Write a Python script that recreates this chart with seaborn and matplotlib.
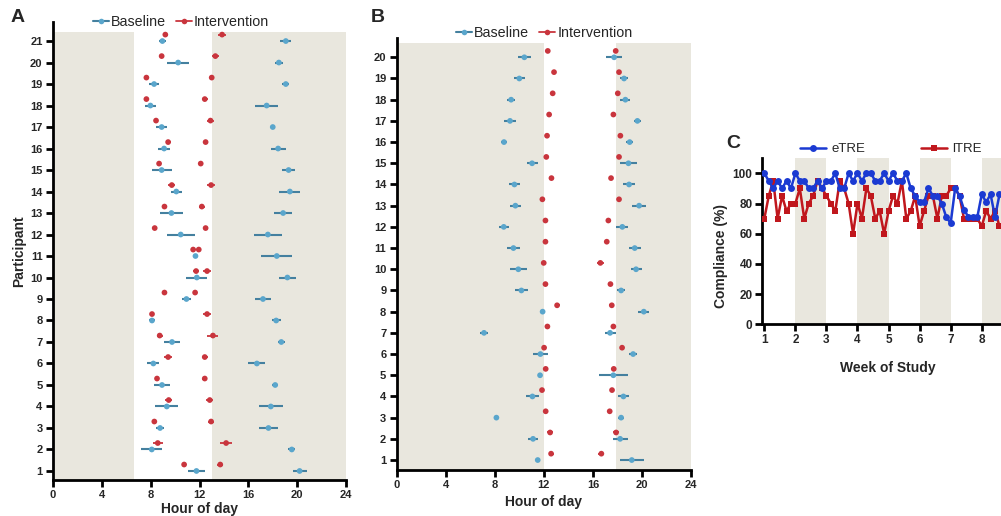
import numpy as np
import pandas as pd
import matplotlib
matplotlib.use("Agg")
import matplotlib.pyplot as plt
import seaborn as sns
from matplotlib.lines import Line2D

# ---------------- data ----------------
# Panel A: 21 participants, first / last meal time (hour of day), mean and spread
a_participants = list(range(1, 22))
a_base_first = [11.75, 8.09, 8.77, 9.32, 8.93, 8.22, 9.75, 8.11, 10.93, 11.78, 11.67,
                10.46, 9.70, 10.10, 8.90, 9.10, 8.90, 7.98, 8.28, 10.25, 8.96]
a_base_first_err = [0.70, 0.85, 0.35, 0.95, 0.64, 0.50, 0.67, 0.25, 0.40, 0.87, 0.0,
                    1.16, 0.95, 0.45, 0.83, 0.50, 0.45, 0.45, 0.40, 0.90, 0.30]
a_base_last = [20.20, 19.56, 17.65, 17.84, 18.20, 16.70, 18.70, 18.28, 17.20, 19.20, 18.33,
               17.60, 18.85, 19.40, 19.30, 18.44, 18.00, 17.50, 19.07, 18.50, 19.07]
a_base_last_err = [0.58, 0.30, 0.78, 0.98, 0.25, 0.70, 0.30, 0.38, 0.68, 0.68, 1.27,
                   1.17, 0.75, 0.87, 0.55, 0.62, 0.10, 0.93, 0.30, 0.30, 0.45]
a_int_first = [10.74, 8.58, 8.30, 9.48, 8.52, 9.43, 8.74, 8.11, 9.13, 11.72, 11.48,
               8.33, 9.13, 9.73, 8.69, 9.43, 8.44, 7.65, 7.65, 8.90, 9.20]
a_int_first_err = [0.10, 0.40, 0.10, 0.30, 0.15, 0.30, 0.25, 0.10, 0.15, 0.25, 0.10,
                   0.10, 0.20, 0.30, 0.10, 0.20, 0.20, 0.20, 0.10, 0.20, 0.20]
a_int_last = [13.70, 14.18, 12.95, 12.84, 12.43, 12.43, 13.10, 12.62, 11.64, 12.62, 11.94,
              12.50, 12.19, 12.95, 12.10, 12.50, 12.90, 12.43, 13.00, 13.30, 13.85]
a_int_last_err = [0.25, 0.50, 0.25, 0.30, 0.20, 0.25, 0.45, 0.30, 0.10, 0.30, 0.10,
                  0.15, 0.25, 0.30, 0.15, 0.15, 0.25, 0.25, 0.15, 0.30, 0.30]

# Panel B: 20 participants
b_participants = list(range(1, 21))
b_base_first = [11.50, 11.12, 8.13, 11.07, 11.69, 11.72, 7.12, 11.90, 10.17, 9.92,
                9.52, 8.73, 9.68, 9.60, 11.04, 8.75, 9.24, 9.33, 10.00, 10.41]
b_base_first_err = [0.0, 0.40, 0.15, 0.55, 0.10, 0.64, 0.30, 0.10, 0.50, 0.70,
                    0.50, 0.40, 0.45, 0.45, 0.45, 0.25, 0.50, 0.35, 0.45, 0.54]
b_base_last = [19.17, 18.22, 18.30, 18.49, 17.67, 19.28, 17.40, 20.15, 18.30, 19.52,
               19.41, 18.40, 19.77, 18.95, 18.90, 19.00, 19.63, 18.65, 18.54, 17.73]
b_base_last_err = [0.98, 0.62, 0.25, 0.45, 1.17, 0.30, 0.45, 0.45, 0.35, 0.45,
                   0.50, 0.50, 0.60, 0.50, 0.68, 0.30, 0.30, 0.40, 0.30, 0.68]
b_int_first = [12.59, 12.51, 12.15, 11.85, 12.15, 12.02, 12.29, 13.08, 12.13, 11.99,
               12.13, 12.13, 11.88, 12.62, 12.20, 12.26, 12.43, 12.72, 12.83, 12.32]
b_int_first_err = [0.20, 0.25, 0.10, 0.10, 0.10, 0.10, 0.10, 0.20, 0.10, 0.10,
                   0.10, 0.10, 0.10, 0.10, 0.10, 0.10, 0.10, 0.10, 0.10, 0.10]
b_int_last = [16.69, 17.89, 17.37, 17.56, 17.70, 18.38, 17.67, 17.54, 17.43, 16.61,
              17.13, 17.26, 18.13, 17.48, 18.13, 18.24, 17.67, 18.03, 18.13, 17.86]
b_int_last_err = [0.25, 0.25, 0.10, 0.10, 0.10, 0.10, 0.10, 0.20, 0.10, 0.30,
                  0.10, 0.20, 0.10, 0.10, 0.10, 0.10, 0.10, 0.10, 0.10, 0.10]

# Panel C: daily compliance (%) from week 1 onwards
c_day = list(range(54))
c_etre = [100, 95, 90, 95, 90, 95, 90, 100, 95, 95, 90, 90, 95, 90, 95, 95, 100, 90,
          90, 100, 95, 100, 95, 100, 100, 95, 95, 100, 95, 100, 95, 95, 100, 90, 85, 81,
          81, 90, 85, 85, 80, 71, 67, 90, 85, 76, 71, 71, 71, 86, 81, 86, 71, 86]
c_ltre = [70, 85, 95, 70, 85, 75, 80, 80, 90, 70, 80, 85, 95, 90, 85, 80, 75, 95,
          90, 80, 60, 80, 70, 90, 85, 70, 75, 60, 75, 85, 80, 95, 70, 75, 85, 65,
          75, 85, 85, 70, 85, 85, 90, 90, 85, 70, 70, 70, 70, 65, 75, 70, 75, 65]

# ---------------- style ----------------
sns.set_theme(style="ticks")
plt.rcParams['font.family'] = ['Liberation Sans', 'DejaVu Sans']

SHADE = "#e9e7de"
BLUE_DOT = "#5aa6cc"
BLUE_BAR = "#44809f"
RED_DOT = "#c9353d"
C_BLUE = "#1b3ad2"
C_RED = "#c0171d"

W, H = 1001, 516
fig = plt.figure(figsize=(W / 100, H / 100), dpi=100)
fig.patch.set_facecolor("white")


def style_axes(ax, tick_size=8):
    for side in ("top", "right"):
        ax.spines[side].set_visible(False)
    for side in ("left", "bottom"):
        ax.spines[side].set_linewidth(2)
        ax.spines[side].set_color("black")
    ax.tick_params(axis="both", which="major", direction="out", length=5, width=2,
                   color="black", labelsize=tick_size, pad=2.5)
    ax.set_facecolor("white")


def draw_meal_panel(ax, parts, bf, bfe, bl, ble, inf, infe, inl, inle, offset=0.3):
    ypart = np.array(parts, dtype=float)
    rows = []
    for x, y in zip(bf, ypart):
        rows.append(("Baseline", x, y))
    for x, y in zip(bl, ypart):
        rows.append(("Baseline", x, y))
    for x, y in zip(inf, ypart + offset):
        rows.append(("Intervention", x, y))
    for x, y in zip(inl, ypart + offset):
        rows.append(("Intervention", x, y))
    df = pd.DataFrame(rows, columns=["group", "hour", "participant"])

    ax.errorbar(bf, ypart, xerr=bfe, fmt="none", ecolor=BLUE_BAR, elinewidth=1.5,
                capsize=0, zorder=2)
    ax.errorbar(bl, ypart, xerr=ble, fmt="none", ecolor=BLUE_BAR, elinewidth=1.5,
                capsize=0, zorder=2)
    ax.errorbar(inf, ypart + offset, xerr=infe, fmt="none", ecolor=RED_DOT,
                elinewidth=1.3, capsize=0, zorder=2)
    ax.errorbar(inl, ypart + offset, xerr=inle, fmt="none", ecolor=RED_DOT,
                elinewidth=1.3, capsize=0, zorder=2)
    sns.scatterplot(data=df, x="hour", y="participant", hue="group",
                    palette={"Baseline": BLUE_DOT, "Intervention": RED_DOT},
                    s=17, linewidth=0, legend=False, ax=ax, zorder=3)


def meal_legend(ax, xc, yc):
    handles = [Line2D([], [], color=BLUE_BAR, lw=1.5, marker="o", ms=4,
                      markerfacecolor=BLUE_DOT, markeredgewidth=0),
               Line2D([], [], color=RED_DOT, lw=1.3, marker="o", ms=4,
                      markerfacecolor=RED_DOT, markeredgewidth=0)]
    fig.legend(handles, ["Baseline", "Intervention"], loc="center",
               bbox_to_anchor=(xc / W, 1 - yc / H), ncol=2, frameon=False,
               fontsize=10.3, handlelength=1.1, handletextpad=0.15,
               columnspacing=0.7, borderpad=0)


def px_axes(left, top, right, bottom):
    return fig.add_axes([left / W, 1 - bottom / H, (right - left) / W, (bottom - top) / H])


# ---------------- panel A ----------------
axA = px_axes(53, 21.7, 346, 480)
a_ylim = (0.58, 21.9)
axA.fill_betweenx([a_ylim[0], 21.4], 0, 6.67, color=SHADE, lw=0, zorder=0)
axA.fill_betweenx([a_ylim[0], 21.4], 13.0, 24, color=SHADE, lw=0, zorder=0)
draw_meal_panel(axA, a_participants, a_base_first, a_base_first_err, a_base_last,
                a_base_last_err, a_int_first, a_int_first_err, a_int_last, a_int_last_err)
axA.set_xlim(0, 24)
axA.set_ylim(*a_ylim)
axA.set_xticks(range(0, 25, 4))
axA.set_yticks(a_participants)
style_axes(axA)
axA.set_xlabel("Hour of day", fontsize=10, fontweight="bold", labelpad=1)
axA.set_ylabel("Participant", fontsize=10, fontweight="bold", labelpad=3)
meal_legend(axA, 181, 21.7)

# ---------------- panel B ----------------
axB = px_axes(396.7, 38, 691, 470)
b_ylim = (0.53, 20.91)
axB.fill_betweenx([b_ylim[0], 20.66], 0, 12.0, color=SHADE, lw=0, zorder=0)
axB.fill_betweenx([b_ylim[0], 20.66], 17.9, 24, color=SHADE, lw=0, zorder=0)
draw_meal_panel(axB, b_participants, b_base_first, b_base_first_err, b_base_last,
                b_base_last_err, b_int_first, b_int_first_err, b_int_last, b_int_last_err)
axB.set_xlim(0, 24)
axB.set_ylim(*b_ylim)
axB.set_xticks(range(0, 25, 4))
axB.set_yticks(b_participants)
style_axes(axB)
axB.set_xlabel("Hour of day", fontsize=10, fontweight="bold", labelpad=3)
axB.set_ylabel("")
meal_legend(axB, 544.5, 33.3)

# ---------------- panel C ----------------
axC = px_axes(762.3, 158.2, 1012.8, 324.3)
for w0 in (2, 4, 6, 8):
    axC.axvspan(w0, w0 + 1, color=SHADE, lw=0, zorder=0)
week = 1 + np.array(c_day) / 7
dfC = pd.DataFrame({
    "week": np.concatenate([week, week]),
    "compliance": c_ltre + c_etre,
    "group": ["lTRE"] * len(c_ltre) + ["eTRE"] * len(c_etre),
})
sns.lineplot(data=dfC, x="week", y="compliance", hue="group", style="group",
             hue_order=["lTRE", "eTRE"], palette={"eTRE": C_BLUE, "lTRE": C_RED},
             markers={"eTRE": "o", "lTRE": "s"}, dashes=False, markersize=5,
             markeredgewidth=0, linewidth=1.8, legend=False, ax=axC, zorder=3)
axC.set_xlim(0.935, 9.0)
axC.set_ylim(0, 110)
axC.set_xticks(range(1, 9))
axC.set_yticks(range(0, 101, 20))
style_axes(axC, tick_size=8.5)
axC.tick_params(axis="both", pad=2)
axC.set_xlabel("Week of Study", fontsize=10, fontweight="bold", labelpad=11)
axC.set_ylabel("Compliance (%)", fontsize=10, fontweight="bold")
axC.yaxis.set_label_coords(-0.135, 0.41)
c_handles = [Line2D([], [], color=C_BLUE, lw=1.8, marker="o", ms=5, markeredgewidth=0),
             Line2D([], [], color=C_RED, lw=1.8, marker="s", ms=5, markeredgewidth=0)]
fig.legend(c_handles, ["eTRE", "lTRE"], loc="center",
           bbox_to_anchor=(891 / W, 1 - 149.3 / H), ncol=2, frameon=False,
           fontsize=9.5, handlelength=2.0, handletextpad=0.4, columnspacing=4.2,
           borderpad=0)

for ax in (axA, axB, axC):
    plt.setp(ax.get_xticklabels(), fontweight="bold")
    plt.setp(ax.get_yticklabels(), fontweight="bold")

# panel letters
fig.text(18 / W, 1 - 17 / H, "A", fontsize=14, fontweight="bold", ha="center", va="center")
fig.text(378 / W, 1 - 17 / H, "B", fontsize=14, fontweight="bold", ha="center", va="center")
fig.text(733 / W, 1 - 143 / H, "C", fontsize=14, fontweight="bold", ha="center", va="center")

fig.savefig("out.png", dpi=100, facecolor="white")
